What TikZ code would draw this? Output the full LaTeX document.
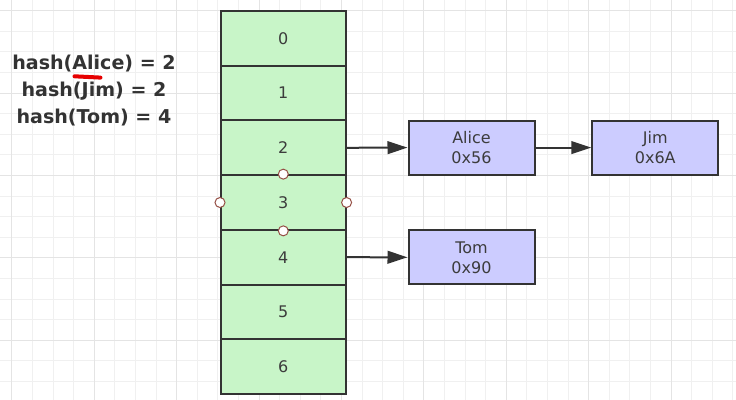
\documentclass[tikz,border=0pt]{standalone}
\usepackage{fontspec}
\setmainfont{DejaVu Sans}
\usetikzlibrary{arrows.meta}
\definecolor{gridminor}{RGB}{240,240,240}
\definecolor{gridmajor}{RGB}{228,228,228}
\definecolor{cellgreen}{RGB}{200,245,200}
\definecolor{boxblue}{RGB}{204,204,255}
\definecolor{edge}{RGB}{51,51,51}
\definecolor{txt}{RGB}{60,60,60}
\definecolor{handle}{RGB}{150,80,70}
\definecolor{brush}{RGB}{230,0,0}
\tikzset{
  cell/.style={draw=edge, line width=1.5pt, fill=cellgreen, minimum width=93.45pt, minimum height=41.03pt, inner sep=0pt, text=txt, font=\fontsize{12}{15}\selectfont},
  entry/.style={draw=edge, line width=1.5pt, fill=boxblue, minimum width=94.5pt, minimum height=40.5pt, inner sep=0pt, text=txt, align=center, font=\fontsize{12}{15}\selectfont},
  link/.style={draw=edge, line width=1.5pt, -{Triangle[length=15pt,width=9.5pt]}},
  hashline/.style={anchor=base, text=edge, font=\bfseries\fontsize{14.3}{16}\selectfont},
  grip/.style={circle, draw=handle, line width=0.75pt, fill=white, minimum size=7.5pt, inner sep=0pt},
}
\begin{document}
\begin{tikzpicture}[x=0.75pt,y=-0.75pt]
\useasboundingbox (0,0) rectangle (736,400);
\fill[white] (0,0) rectangle (736,400);
% grid
\foreach \k in {0,...,35} {
  \pgfmathsetmacro{\gx}{11.9+20.6*\k}
  \draw[gridminor, line width=0.75pt] (\gx,0) -- (\gx,400);
}
\foreach \k in {0,...,19} {
  \pgfmathsetmacro{\gy}{10.7+20.6*\k}
  \draw[gridminor, line width=0.75pt] (0,\gy) -- (736,\gy);
}
\foreach \k in {0,4,...,32} {
  \pgfmathsetmacro{\gx}{11.9+20.6*\k}
  \draw[gridmajor, line width=0.75pt] (\gx,0) -- (\gx,400);
}
\foreach \k in {0,4,...,16} {
  \pgfmathsetmacro{\gy}{10.7+20.6*\k}
  \draw[gridmajor, line width=0.75pt] (0,\gy) -- (736,\gy);
}
% table
\foreach \i in {0,...,6} {
  \pgfmathsetmacro{\cy}{11+54.714*(\i+0.5)}
  \node[cell] (r\i) at (283.3,\cy) {\i};
}
% entries
\node[entry] (alice) at (471.5,147.6) {Alice\\0x56};
\node[entry] (jim) at (655.3,147.6) {Jim\\0x6A};
\node[entry] (tom) at (471.5,257.3) {Tom\\0x90};
\draw[link] (r2.east) -- (alice.west);
\draw[link] (alice.east) -- (jim.west);
\draw[link] (r4.east) -- (tom.west);
% selection handles
\node[grip] (g1) at (r3.north) {};
\node[grip] (g2) at (r3.south) {};
\node[grip] (g3) at (r3.west) {};
\node[grip] (g4) at (r3.east) {};
% hash text
\node[hashline] (h1) at (94,69.3) {hash(Alice) = 2};
\node[hashline] (h2) at (94,96.7) {hash(Jim) = 2};
\node[hashline] (h3) at (94,123.3) {hash(Tom) = 4};
% red brush mark
\coordinate (b1) at (74.5,76.3);
\coordinate (b2) at (100.5,77.6);
\draw[brush, line width=3pt, line cap=round] (b1) -- (b2);
\end{tikzpicture}
\end{document}
